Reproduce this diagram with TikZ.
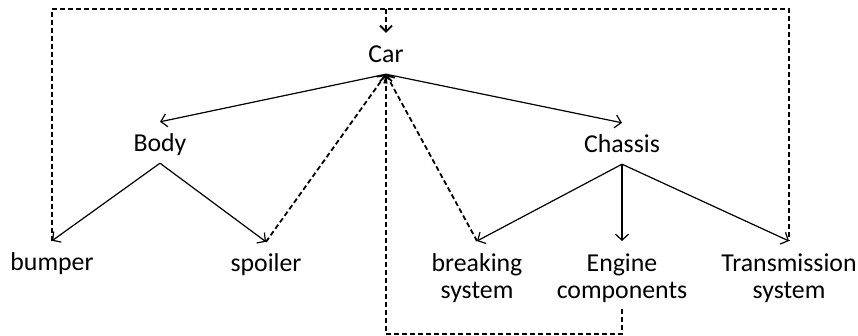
\documentclass[tikz,border=0pt]{standalone}
\usepackage{fontspec}
\setmainfont{Carlito}
\usetikzlibrary{arrows.meta}
\begin{document}
\begin{tikzpicture}[x=1pt,y=-1pt,
  label/.style={font=\fontsize{25.8pt}{27pt}\selectfont,align=center,
    inner xsep=2pt,inner ysep=6pt},
  onel/.style={label,anchor=base,text height=24pt,text depth=5pt},
  twol/.style={label,anchor=north},
  part/.style={line width=1.2pt,-{Straight Barb[length=6pt,width=13pt]}},
  back/.style={line width=1.8pt,dash pattern=on 5pt off 3pt},
  backarrow/.style={back,-{Straight Barb[length=6pt,width=12pt]}}]
\useasboundingbox (0,0) rectangle (858,336);

% labels
\node[onel] (car) at (386,63) {Car};
\node[onel] (body) at (160,152) {Body};
\node[onel] (chassis) at (622,153) {Chassis};
\node[onel] (bumper) at (52,271) {bumper};
\node[onel] (spoiler) at (266,272) {spoiler};
\node[twol] (breaking) at (477,241) {\rule{0pt}{24pt}breaking\\system};
\node[twol] (engine) at (622,241) {\rule{0pt}{24pt}Engine\\components};
\node[twol] (trans) at (789,241) {\rule{0pt}{24pt}Transmission\\system};
\coordinate (top) at (386,9);
\coordinate (low) at (386,334);

% part-of hierarchy
\draw[part] (car.south) -- (body.north);
\draw[part] (car.south) -- (chassis.north);
\draw[part] (body.south) -- (bumper.north);
\draw[part] (body.south) -- (spoiler.north);
\draw[part] (chassis.south) -- (breaking.north);
\draw[part] (chassis.south) -- (engine.north);
\draw[part] (chassis.south) -- (trans.north);

% feedback links
\draw[backarrow] (spoiler.north) -- (car.south);
\draw[backarrow] (breaking.north) -- (car.south);
\draw[backarrow] (engine.south) |- (low) -- (car.south);
\draw[back] (bumper.north) |- (top) -| (trans.north);
\draw[backarrow] (top) -- (car.north);
\end{tikzpicture}
\end{document}
